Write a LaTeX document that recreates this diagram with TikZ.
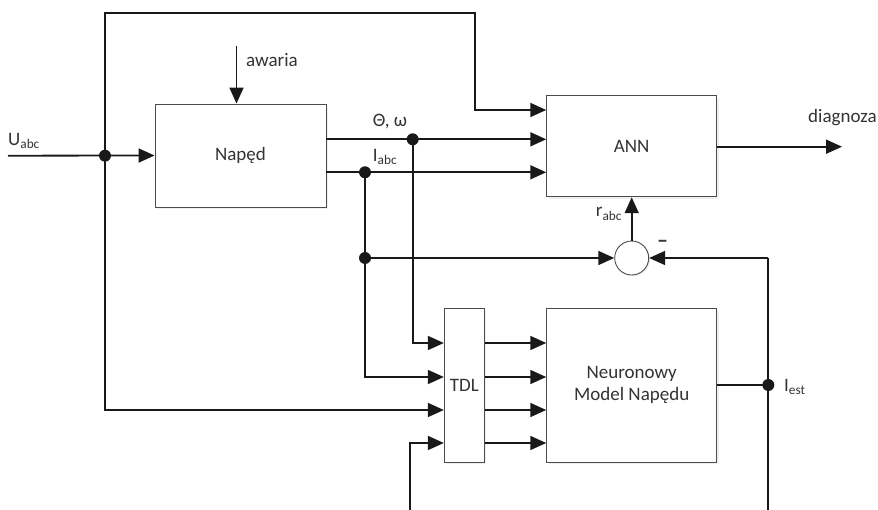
\documentclass[tikz,border=0pt]{standalone}
\usepackage{fontspec}
\setmainfont{Carlito}
\usetikzlibrary{arrows.meta,shadows}
\begin{document}
\begin{tikzpicture}[x=1pt,y=-1pt,
  blk/.style={draw=black!70, line width=0.9pt, fill=white, rectangle, inner sep=0pt,
    font=\fontsize{19}{22}\selectfont, text=black!80, align=center,
    drop shadow={opacity=0.12,shadow xshift=2pt,shadow yshift=-2pt}},
  wire/.style={line width=1.8pt, draw=black!90},
  arr/.style={wire, -{Triangle[length=16pt,width=14pt]}},
  jdot/.style={circle, fill=black!90, inner sep=0pt, minimum size=12pt},
  lbl/.style={font=\fontsize{19}{21}\selectfont, text=black!80, inner sep=0pt}
]
\useasboundingbox (0,0) rectangle (878,510);

% blocks
\node[blk, minimum width=171pt, minimum height=103pt] (napd) at (240.5,155.5) {Napęd};
\node[blk, minimum width=170pt, minimum height=101pt] (ann) at (631.7,146.3) {ANN};
\node[blk, minimum width=40pt, minimum height=154pt] (tdl) at (464.3,385) {TDL};
\node[blk, minimum width=170pt, minimum height=154pt] (nmn) at (631.7,385) {Neuronowy\\Model Napędu};
\node[draw=black!70, line width=0.9pt, fill=white, circle, minimum size=34pt, inner sep=0pt,
  drop shadow={opacity=0.12,shadow xshift=1.5pt,shadow yshift=-1.5pt}] (sum) at (631.7,258) {};

% reference coordinates
\coordinate (uin) at (8,155.7);
\coordinate (ju) at (105,155.7);
\coordinate (tl) at (105,13.3);
\coordinate (tr) at (475,13.3);
\coordinate (tb) at (475,110);
\coordinate (aw) at (236.5,46);
\coordinate (yth) at (0,139.3);
\coordinate (yia) at (0,172.3);
\coordinate (jth) at (412.7,139.3);
\coordinate (jia) at (365,172.3);
\coordinate (jmid) at (365,258);
\coordinate (y1) at (0,343);
\coordinate (y2) at (0,377);
\coordinate (y3) at (0,410);
\coordinate (y4) at (0,443);
\coordinate (bot) at (410,510);
\coordinate (jest) at (768.3,385);
\coordinate (rtop) at (768.3,258);
\coordinate (rbot) at (768.3,510);
\coordinate (ydg) at (0,146.7);
\coordinate (dout) at (842,146.7);

% connectors
\draw[arr] (uin) -- (napd.west);
\draw[arr] (ju) -- (tl) -- (tr) -- (tb) -- (ann.west |- tb);
\draw[arr] (ju) -- (ju |- y3) -- (tdl.west |- y3);
\draw[arr] (aw) -- (napd.north -| aw);
\draw[arr] (napd.east |- yth) -- (ann.west |- yth);
\draw[arr] (napd.east |- yia) -- (ann.west |- yia);
\draw[arr] (jth) -- (jth |- y1) -- (tdl.west |- y1);
\draw[arr] (jia) -- (jia |- y2) -- (tdl.west |- y2);
\draw[arr] (jmid) -- (sum.west);
\draw[arr] (bot) -- (bot |- y4) -- (tdl.west |- y4);
\draw[arr] (tdl.east |- y1) -- (nmn.west |- y1);
\draw[arr] (tdl.east |- y2) -- (nmn.west |- y2);
\draw[arr] (tdl.east |- y3) -- (nmn.west |- y3);
\draw[arr] (tdl.east |- y4) -- (nmn.west |- y4);
\draw[wire] (nmn.east) -- (jest);
\draw[wire] (rtop) -- (rbot);
\draw[arr] (rtop) -- (sum.east);
\draw[arr] (sum.north) -- (ann.south);
\draw[arr] (ann.east |- ydg) -- (dout);

% junction dots
\node[jdot] (d1) at (ju) {};
\node[jdot] (d2) at (jth) {};
\node[jdot] (d3) at (jia) {};
\node[jdot] (d4) at (jmid) {};
\node[jdot] (d5) at (jest) {};

% labels
\node[lbl, anchor=west] (luabc) at (8,141) {U\textsubscript{abc}};
\node[lbl, anchor=west] (law) at (246,60) {awaria};
\node[lbl] (lth) at (390,122) {Θ, ω};
\node[lbl] (lia) at (385,157) {I\textsubscript{abc}};
\node[lbl, anchor=west] (ldg) at (808,118) {diagnoza};
\node[lbl] (lr) at (609,214) {r\textsubscript{abc}};
\node[lbl, font=\fontsize{22}{22}\selectfont\bfseries] (lmin) at (662.7,244) {–};
\node[lbl, anchor=west] (lest) at (784,387) {I\textsubscript{est}};
\end{tikzpicture}
\end{document}
